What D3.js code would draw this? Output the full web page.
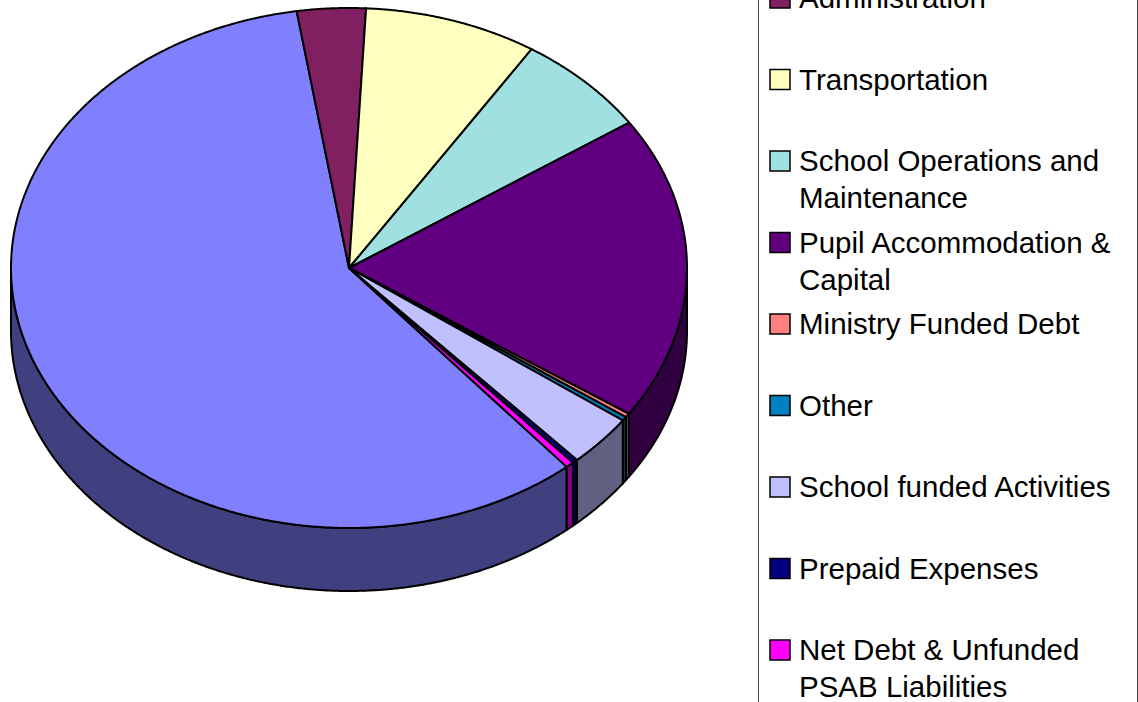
<!DOCTYPE html>
<html>
<head>
<meta charset="utf-8">
<script src="https://cdn.jsdelivr.net/npm/d3@7"></script>
<style>
  html, body { margin: 0; padding: 0; background: #fff; overflow: hidden; }
  svg { display: block; }
  text { font-family: "Liberation Sans", Arial, sans-serif; font-size: 29.5px; fill: #000; }
</style>
</head>
<body>
<svg id="chart" width="1138" height="702"></svg>
<script>
// values, percent of the whole
const categories = ["Classroom", "Administration", "Transportation", "School Operations and Maintenance",
  "Pupil Accommodation & Capital", "Ministry Funded Debt", "Other", "School funded Activities",
  "Prepaid Expenses", "Net Debt & Unfunded PSAB Liabilities"];
const shares = [58.67, 3.28, 8.28, 6.47, 18.92, 0.25, 0.25, 3.25, 0.25, 0.39];
const colours = ["#8080ff", "#802060", "#ffffc0", "#a0e0e0", "#600080", "#ff8080", "#0080c0", "#c0c0ff", "#000080", "#ff00ff"];

// the legend box runs off the picture, the first row is not visible
const legendRows = [
  ["Administration"],
  ["Transportation"],
  ["School Operations and", "Maintenance"],
  ["Pupil Accommodation &", "Capital"],
  ["Ministry Funded Debt"],
  ["Other"],
  ["School funded Activities"],
  ["Prepaid Expenses"],
  ["Net Debt & Unfunded", "PSAB Liabilities"]
];

let svg = d3.select("#chart");

let pie = {cx: 349, cy: 268, rx: 338, ry: 260, depth: 63};
let startAngle = 139.9 * Math.PI / 180;

let arcs = d3.pie()
  .sort(null)
  .startAngle(startAngle)
  .endAngle(startAngle + 2 * Math.PI)(shares);

let line = d3.line();

// point on the top (or, with drop, lower) rim, angle clockwise from 12 o'clock
function rim(a, drop = 0) {
  return [pie.cx + pie.rx * Math.sin(a), pie.cy - pie.ry * Math.cos(a) + drop];
}

function rimPoints(a0, a1, drop = 0) {
  let n = Math.max(2, Math.ceil((a1 - a0) / 0.005));
  return d3.range(n + 1).map(i => rim(a0 + (a1 - a0) * i / n, drop));
}

function sideColour(c) {
  let rgb = d3.rgb(c);
  return d3.rgb(rgb.r * 0.5, rgb.g * 0.5, rgb.b * 0.5).formatHex();
}

// only the front half of the wall can be seen: pi/2 to 3pi/2, also after a full turn
function wallParts(d) {
  let parts = [];
  [0, 2 * Math.PI].forEach(turn => {
    let a0 = Math.max(d.startAngle, Math.PI / 2 + turn);
    let a1 = Math.min(d.endAngle, 3 * Math.PI / 2 + turn);
    if (a1 > a0) parts.push([a0, a1]);
  });
  return parts;
}

// walls first
arcs.forEach((d, i) => {
  wallParts(d).forEach(p => {
    let pts = rimPoints(p[0], p[1]).concat(rimPoints(p[0], p[1], pie.depth).reverse());
    svg.append("path")
      .attr("d", line(pts) + "Z")
      .attr("fill", sideColour(colours[i]))
      .attr("stroke", "#000")
      .attr("stroke-width", 2)
      .attr("stroke-linejoin", "round");
  });
});

// top faces
svg.selectAll(".slice")
  .data(arcs)
  .enter()
  .append("path")
  .attr("class", "slice")
  .attr("d", d => line([[pie.cx, pie.cy]].concat(rimPoints(d.startAngle, d.endAngle))) + "Z")
  .attr("fill", (d, i) => colours[i])
  .attr("stroke", "#000")
  .attr("stroke-width", 2)
  .attr("stroke-linejoin", "round");

// legend
let rowY = d3.scaleLinear().domain([0, 1]).range([8, 89.5]);
let lineHeight = 37;

svg.append("rect")
  .attr("x", 758.5)
  .attr("y", -20)
  .attr("width", 379)
  .attr("height", 760)
  .attr("fill", "#fff")
  .attr("stroke", "#444")
  .attr("stroke-width", 1);

let rows = svg.selectAll(".key")
  .data(legendRows)
  .enter()
  .append("g")
  .attr("class", "key")
  .attr("transform", (d, i) => "translate(0," + rowY(i) + ")");

rows.append("rect")
  .attr("x", 770)
  .attr("y", -20)
  .attr("width", 20)
  .attr("height", 20)
  .attr("fill", (d, i) => colours[i + 1])
  .attr("stroke", "#000")
  .attr("stroke-width", 1.5);

rows.selectAll("text")
  .data(d => d)
  .enter()
  .append("text")
  .attr("x", 799)
  .attr("y", (d, i) => i * lineHeight)
  .text(d => d);
</script>
</body>
</html>
